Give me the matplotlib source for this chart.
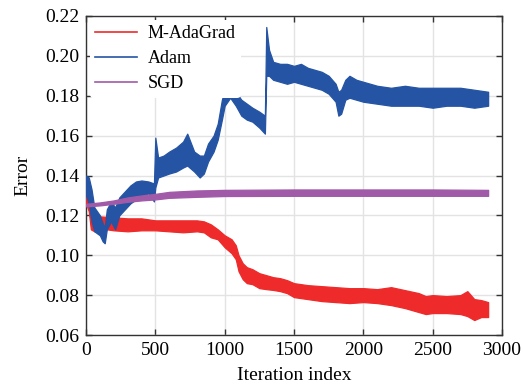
import matplotlib
matplotlib.use("Agg")
import matplotlib.pyplot as plt
from matplotlib.lines import Line2D

plt.rcParams['font.family'] = ['Liberation Serif', 'DejaVu Serif']
plt.rcParams['mathtext.fontset'] = 'stix'

# ---- data (lo/hi = envelope of the noisy trace) ----
series_names = ["M-AdaGrad", "Adam", "SGD"]

madagrad_iter = [0, 20, 35, 60, 100, 200, 300, 400, 500, 600, 700, 800, 850, 900, 950,
                 1000, 1050, 1080, 1100, 1130, 1160, 1200, 1250, 1300, 1350, 1400, 1450,
                 1500, 1600, 1700, 1800, 1900, 2000, 2100, 2200, 2300, 2400, 2450, 2500,
                 2600, 2700, 2750, 2800, 2850, 2900]
madagrad_lo = [0.126, 0.122, 0.113, 0.112, 0.1135, 0.1125, 0.112, 0.1125, 0.1125, 0.112,
               0.1115, 0.112, 0.1115, 0.109, 0.108, 0.104, 0.101, 0.098, 0.092, 0.088,
               0.086, 0.0855, 0.0835, 0.083, 0.0826, 0.082, 0.081, 0.079, 0.078, 0.077,
               0.0765, 0.076, 0.0765, 0.076, 0.075, 0.0735, 0.0715, 0.0705, 0.071, 0.071,
               0.0705, 0.0695, 0.0675, 0.069, 0.069]
madagrad_hi = [0.136, 0.134, 0.124, 0.121, 0.1195, 0.119, 0.1185, 0.1185, 0.1175, 0.1175,
               0.1175, 0.1175, 0.117, 0.1155, 0.113, 0.110, 0.108, 0.105, 0.100, 0.096,
               0.094, 0.093, 0.091, 0.090, 0.089, 0.0885, 0.0875, 0.086, 0.085, 0.0845,
               0.084, 0.0835, 0.0835, 0.083, 0.084, 0.0825, 0.081, 0.0795, 0.080, 0.0795,
               0.080, 0.082, 0.078, 0.0775, 0.0765]

adam_iter = [0, 20, 40, 60, 80, 100, 120, 135, 150, 180, 210, 240, 280, 320, 360, 400,
             450, 490, 500, 520, 560, 600, 650, 700, 730, 780, 820, 850, 880, 920, 950,
             980, 1000, 1040, 1080, 1120, 1160, 1200, 1250, 1290, 1300, 1320, 1350, 1400,
             1450, 1500, 1550, 1600, 1650, 1700, 1750, 1800, 1820, 1840, 1870, 1900, 1950,
             2000, 2100, 2200, 2300, 2400, 2500, 2600, 2700, 2800, 2900]
adam_lo = [0.130, 0.126, 0.117, 0.112, 0.111, 0.110, 0.107, 0.106, 0.113, 0.117, 0.113,
           0.120, 0.123, 0.126, 0.128, 0.130, 0.131, 0.127, 0.134, 0.139, 0.140, 0.141,
           0.142, 0.144, 0.145, 0.142, 0.139, 0.141, 0.147, 0.152, 0.158, 0.168, 0.175,
           0.179, 0.175, 0.170, 0.168, 0.167, 0.164, 0.161, 0.190, 0.190, 0.188, 0.187,
           0.186, 0.187, 0.186, 0.185, 0.184, 0.183, 0.181, 0.177, 0.170, 0.171, 0.178,
           0.179, 0.178, 0.177, 0.176, 0.175, 0.175, 0.175, 0.174, 0.175, 0.175, 0.174,
           0.175]
adam_hi = [0.140, 0.139, 0.133, 0.124, 0.122, 0.120, 0.116, 0.114, 0.123, 0.127, 0.124,
           0.129, 0.132, 0.135, 0.137, 0.1375, 0.137, 0.136, 0.159, 0.149, 0.150, 0.152,
           0.154, 0.157, 0.161, 0.152, 0.150, 0.150, 0.156, 0.160, 0.166, 0.178, 0.183,
           0.186, 0.182, 0.178, 0.176, 0.174, 0.172, 0.170, 0.2145, 0.203, 0.197, 0.196,
           0.196, 0.195, 0.196, 0.194, 0.193, 0.192, 0.190, 0.186, 0.182, 0.183, 0.188,
           0.190, 0.188, 0.187, 0.185, 0.184, 0.185, 0.184, 0.184, 0.184, 0.184, 0.183,
           0.182]

sgd_iter = [0, 100, 200, 300, 400, 500, 600, 800, 1000, 1500, 2000, 2500, 2900]
sgd_lo = [0.1245, 0.125, 0.1258, 0.1268, 0.1275, 0.128, 0.1288, 0.1293, 0.1297, 0.1298,
          0.1298, 0.1298, 0.1298]
sgd_hi = [0.1258, 0.1265, 0.1275, 0.129, 0.1300, 0.1308, 0.1318, 0.1325, 0.1328, 0.133,
          0.133, 0.133, 0.1328]

x_ticks = [0, 500, 1000, 1500, 2000, 2500, 3000]
y_ticks = [0.06, 0.08, 0.10, 0.12, 0.14, 0.16, 0.18, 0.20, 0.22]

colors = ['#ee2a2a', '#2454a3', '#a05aa8']

# ---- figure ----
fig = plt.figure(figsize=(5.23, 3.87), dpi=100)
ax = fig.add_axes([86/523, 1-335/387, (502-86)/523, (335-16)/387])

data = [(madagrad_iter, madagrad_lo, madagrad_hi),
        (adam_iter, adam_lo, adam_hi),
        (sgd_iter, sgd_lo, sgd_hi)]
for (xi, lo, hi), c in zip(data, colors):
    ax.fill_between(xi, lo, hi, color=c, lw=0.9, edgecolor=c, zorder=3)

ax.set_xlim(0, 3000)
ax.set_ylim(0.06, 0.22)
ax.set_xticks(x_ticks)
ax.set_yticks(y_ticks)
ax.set_yticklabels([f"{v:.2f}" for v in y_ticks])
ax.grid(True, color='#e3e3e3', lw=1.0, zorder=0)
ax.set_axisbelow(True)
ax.tick_params(direction='in', top=True, right=True, length=4, width=1,
               labelsize=14, color='#333333', pad=5)
for s in ax.spines.values():
    s.set_linewidth(1.0)
    s.set_color('#333333')
ax.set_xlabel("Iteration index", fontsize=14, labelpad=6)
ax.set_ylabel("Error", fontsize=14, labelpad=10)

handles = [Line2D([0], [0], color=c, lw=1.2) for c in colors]
leg = ax.legend(handles, series_names, loc='upper left', fontsize=13,
                frameon=True, framealpha=1, edgecolor='none', facecolor='white',
                handlelength=2.3, handletextpad=0.6, labelspacing=0.45,
                borderaxespad=0.2, borderpad=0.3)
leg.set_zorder(5)

fig.savefig("out.png", dpi=100)
